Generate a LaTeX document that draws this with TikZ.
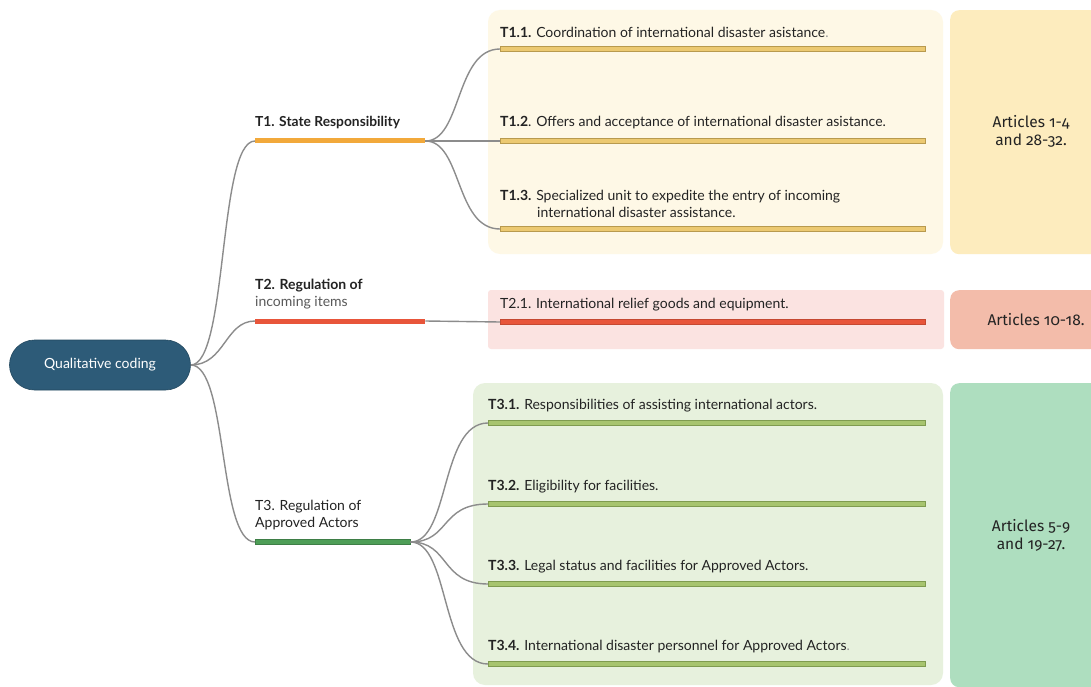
\documentclass[tikz,border=0pt]{standalone}
\usepackage{fontspec}
\setmainfont{Lato}
\newfontfamily\artfont[Numbers=OldStyle]{Fira Sans}
\definecolor{rootblue}{RGB}{45,91,120}
\definecolor{torange}{RGB}{242,169,59}
\definecolor{tred}{RGB}{232,85,58}
\definecolor{tgreen}{RGB}{78,158,87}
\definecolor{ypanel}{RGB}{254,248,230}
\definecolor{yart}{RGB}{253,236,190}
\definecolor{ybar}{RGB}{236,201,113}
\definecolor{ybarline}{RGB}{184,154,78}
\definecolor{ppanel}{RGB}{251,227,225}
\definecolor{part}{RGB}{243,188,170}
\definecolor{gpanel}{RGB}{231,241,221}
\definecolor{gart}{RGB}{174,222,191}
\definecolor{gbar}{RGB}{167,196,110}
\definecolor{gbarline}{RGB}{127,155,79}
\definecolor{txt}{RGB}{35,35,35}
\definecolor{conn}{RGB}{140,140,140}
\tikzset{
  lbl/.style={anchor=south west, inner sep=0pt, text=txt, font=\fontsize{14}{17}\selectfont, align=left},
  topbar/.style={rectangle, inner sep=0pt, minimum height=5pt, anchor=west},
  subbar/.style={rectangle, inner sep=0pt, minimum height=4.5pt, minimum width=425pt, anchor=west, line width=0.8pt},
  link/.style={draw=conn, line width=1.4pt},
  artbox/.style={rectangle, rounded corners=9pt, inner sep=0pt},
  arttext/.style={text=txt, align=center, font=\artfont\fontsize{15.5}{18}\selectfont},
}
\begin{document}
\begin{tikzpicture}[x=1pt,y=-1pt]
\useasboundingbox[fill=white] (0,0) rectangle (1091,687);
% panels
\fill[ypanel, rounded corners=12pt] (488,10) rectangle (943,254);
\fill[ppanel, rounded corners=3pt] (488,290) rectangle (944,349);
\fill[gpanel, rounded corners=12pt] (473,383) rectangle (943,685);
% article boxes
\node[artbox, fill=yart, minimum width=150pt, minimum height=244pt, anchor=north west] (a1) at (950,10) {};
\node[arttext] (a1t) at (1031,131) {Articles 1-4\\and 28-32.};
\node[artbox, fill=part, minimum width=150pt, minimum height=59pt, anchor=north west] (a2) at (950,290) {};
\node[arttext] (a2t) at (1036,320) {Articles 10-18.};
\node[artbox, fill=gart, minimum width=150pt, minimum height=304pt, anchor=north west] (a3) at (950,383) {};
\node[arttext] (a3t) at (1031,535) {Articles 5-9\\and 19-27.};
% root
\node[rectangle, rounded corners=25pt, fill=rootblue, draw=rootblue!80!black, line width=0.6pt, minimum width=181pt, minimum height=50pt, text=white, font=\fontsize{14}{17}\selectfont] (root) at (100,365) {Qualitative coding};
% top bars
\node[topbar, fill=torange, minimum width=170pt] (t1) at (255,141) {};
\node[topbar, fill=tred, minimum width=170pt] (t2) at (255,321) {};
\node[topbar, fill=tgreen, draw=tgreen!80!black, line width=0.5pt, minimum width=155pt] (t3) at (255,542) {};
\node[lbl, font=\bfseries\fontsize{13.8}{17}\selectfont] (t1l) at (255,129) {T1. State Responsibility};
\node[lbl] (t2l) at (255,309) {\textbf{T2. Regulation of}\\\textcolor{black!65}{incoming items}};
\node[lbl] (t3l) at (255,530) {T3. Regulation of\\Approved Actors};
% T1 sub
\node[subbar, fill=ybar, draw=ybarline] (b11) at (500,49) {};
\node[subbar, fill=ybar, draw=ybarline] (b12) at (500,141) {};
\node[subbar, fill=ybar, draw=ybarline] (b13) at (500,229) {};
\node[lbl] (l11) at (500,38) {\textbf{T1.1.} Coordination of international disaster asistance\textcolor{black!40}{.}};
\node[lbl] (l12) at (500,129) {\textbf{T1.2}. Offers and acceptance of international disaster asistance.};
\node[lbl] (l13) at (500,218) {\textbf{T1.3.} Specialized unit to expedite the entry of incoming\\\hspace*{37pt}international disaster assistance.};
% T2 sub
\node[subbar, fill=tred, draw=tred!85!black, minimum height=5pt] (b21) at (500,322) {};
\node[lbl] (l21) at (500,311) {T2.1. International relief goods and equipment.};
% T3 sub
\node[subbar, fill=gbar, draw=gbarline, minimum width=437pt] (b31) at (488,423) {};
\node[subbar, fill=gbar, draw=gbarline, minimum width=437pt] (b32) at (488,504) {};
\node[subbar, fill=gbar, draw=gbarline, minimum width=437pt] (b33) at (488,584) {};
\node[subbar, fill=gbar, draw=gbarline, minimum width=437pt] (b34) at (488,664) {};
\node[lbl] (l31) at (488,412) {\textbf{T3.1.} Responsibilities of assisting international actors.};
\node[lbl] (l32) at (488,493) {\textbf{T3.2.} Eligibility for facilities.};
\node[lbl] (l33) at (488,573) {\textbf{T3.3.} Legal status and facilities for Approved Actors.};
\node[lbl] (l34) at (488,653) {\textbf{T3.4.} International disaster personnel for Approved Actors\textcolor{black!40}{.}};
% connectors
\draw[link] (root.east) .. controls (228,365) and (218,141) .. (t1.west);
\draw[link] (root.east) .. controls (225,365) and (225,321) .. (t2.west);
\draw[link] (root.east) .. controls (228,365) and (218,542) .. (t3.west);
\draw[link] (t1.east) .. controls (462,141) and (455,49) .. (b11.west);
\draw[link] (t1.east) -- (b12.west);
\draw[link] (t1.east) .. controls (462,141) and (455,229) .. (b13.west);
\draw[link] (t2.east) -- (b21.west);
\draw[link] (t3.east) .. controls (450,542) and (440,423) .. (b31.west);
\draw[link] (t3.east) .. controls (450,542) and (440,504) .. (b32.west);
\draw[link] (t3.east) .. controls (450,542) and (440,584) .. (b33.west);
\draw[link] (t3.east) .. controls (450,542) and (440,664) .. (b34.west);
\end{tikzpicture}
\end{document}
